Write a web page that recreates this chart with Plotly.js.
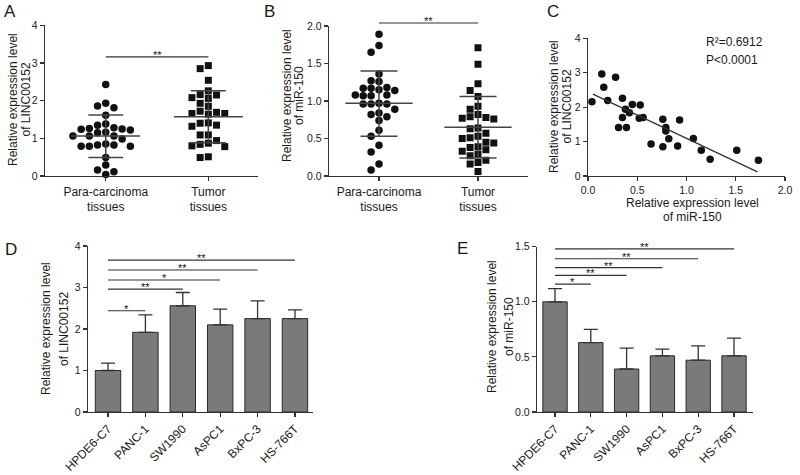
<!DOCTYPE html>
<html>
<head>
<meta charset="utf-8">
<script src="https://cdn.plot.ly/plotly-3.0.1.min.js"></script>
<style>html,body{margin:0;padding:0;background:#fff;}#chart{width:800px;height:475px;}</style>
</head>
<body>
<div id="chart"></div>
<script>
// ---------- DATA ----------
// Panel A: LINC00152 in tissues
const aCats = ['Para-carcinoma<br>tissues', 'Tumor<br>tissues'];
const aPara = [2.43, 1.93, 1.86, 1.81, 1.61, 1.38, 1.35, 1.28, 1.26, 1.25, 1.24, 1.22, 1.16, 1.15,
               1.06, 1.06, 1.06, 0.98, 0.85, 0.82, 0.82, 0.79, 0.79, 0.79, 0.49, 0.29, 0.16, 0.11, 0.04];
const aTumor = [2.93, 2.85, 2.54, 2.26, 2.16, 2.15, 2.08, 2.06, 1.93, 1.85, 1.72, 1.69, 1.66, 1.66,
                1.64, 1.41, 1.40, 1.35, 1.32, 1.09, 1.09, 0.94, 0.87, 0.84, 0.80, 0.78, 0.51, 0.49];
const aMean = [1.06, 1.57];
const aSdHi = [1.62, 2.26];
const aSdLo = [0.49, 0.88];
const aSigY = [3.16];
const aSigLabel = ['**'];

// Panel B: miR-150 in tissues
const bCats = ['Para-carcinoma<br>tissues', 'Tumor<br>tissues'];
const bPara = [1.89, 1.74, 1.65, 1.36, 1.27, 1.26, 1.17, 1.18, 1.15, 1.14, 1.17, 1.08, 1.07, 1.07, 1.08,
               0.97, 0.96, 0.96, 0.96, 0.89, 0.84, 0.79, 0.82, 0.74, 0.61, 0.53, 0.41, 0.32, 0.16, 0.08];
const bTumor = [1.71, 1.49, 1.23, 1.14, 1.06, 0.93, 0.89, 0.82, 0.79, 0.76, 0.78, 0.77, 0.64, 0.63, 0.57,
                0.53, 0.51, 0.50, 0.44, 0.45, 0.39, 0.38, 0.35, 0.33, 0.29, 0.27, 0.21, 0.18, 0.16, 0.06];
const bMean = [0.97, 0.65];
const bSdHi = [1.40, 1.06];
const bSdLo = [0.53, 0.24];
const bSigY = [2.04];
const bSigLabel = ['**'];

// Panel C: correlation
const cX = [0.04, 0.14, 0.16, 0.20, 0.28, 0.31, 0.35, 0.35, 0.38, 0.39, 0.42, 0.45, 0.53, 0.52,
            0.56, 0.64, 0.76, 0.76, 0.79, 0.79, 0.82, 0.91, 0.93, 1.07, 1.15, 1.24, 1.51, 1.73];
const cY = [2.16, 2.96, 2.58, 2.19, 2.87, 1.41, 2.26, 1.70, 1.94, 1.41, 1.84, 2.08, 2.06, 1.68,
            1.70, 0.93, 1.65, 0.85, 1.41, 1.31, 1.08, 0.87, 1.63, 1.09, 0.75, 0.49, 0.75, 0.46];
const cFitX = [0.05, 1.72];
const cFitY = [2.38, 0.12];
const cStats = ['R\u00b2=0.6912', 'P<0.0001'];

// Panels D & E: cell lines
const cells = ['HPDE6-C7', 'PANC-1', 'SW1990', 'AsPC1', 'BxPC-3', 'HS-766T'];
const dVals = [1.00, 1.92, 2.56, 2.10, 2.25, 2.25];
const dErr  = [0.18, 0.42, 0.32, 0.38, 0.43, 0.21];
const dSigY = [2.44, 2.96, 3.18, 3.42, 3.66];
const dSigLabel = ['*', '**', '*', '**', '**'];
const eVals = [1.00, 0.63, 0.39, 0.51, 0.47, 0.51];
const eErr  = [0.12, 0.12, 0.19, 0.06, 0.13, 0.16];
const eSigY = [1.16, 1.24, 1.31, 1.39, 1.48];
const eSigLabel = ['*', '**', '**', '**', '**'];

const titleLINC = ['Relative expression level', 'of LINC00152'];
const titleMIR = ['Relative expression level', 'of miR-150'];

// ---------- STYLE / LAYOUT ----------
const W = 800, H = 475;
const FONT = '"Liberation Sans", Arial, Helvetica, sans-serif';
const TXT = '#1a1a1a';
const AX = '#333';
const DOT = '#111';

function ax(extra) {
  return Object.assign({
    showgrid: false, zeroline: false, showline: true, linecolor: AX, linewidth: 1.2,
    ticks: 'outside', ticklen: 4, tickwidth: 1.2, tickcolor: AX,
    tickfont: {family: FONT, size: 10.5, color: TXT}, fixedrange: true
  }, extra);
}
const px = p => p / W;
const py = p => 1 - p / H;

const A = {dom: [45, 258.3], ydom: [176, 25.3], xr: [-0.592, 1.487], yr: [0, 4]};
const B = {dom: [329, 528], ydom: [176, 26], xr: [-0.505, 1.505], yr: [0, 2]};

function unitsPerPx(dom, r) { return (r[1] - r[0]) / (dom[1] - dom[0]); }

// simple beeswarm placement (Prism-like columns)
function swarm(vals, center, slotPx, diamPx, P) {
  const ux = unitsPerPx(P.dom, P.xr);
  const uy = unitsPerPx([P.ydom[1], P.ydom[0]], P.yr);
  const slot = slotPx * ux, minDy = diamPx * uy;
  const order = vals.map((v, i) => i).sort((a, b) => vals[b] - vals[a]);
  const placed = {};
  const xs = new Array(vals.length);
  order.forEach(i => {
    for (let k = 0; k < 50; k++) {
      const s = k === 0 ? 0 : (k % 2 ? -Math.ceil(k / 2) : Math.ceil(k / 2));
      const list = placed[s] || [];
      if (list.every(y => Math.abs(y - vals[i]) >= minDy)) {
        list.push(vals[i]); placed[s] = list; xs[i] = center + s * slot; break;
      }
    }
  });
  return xs;
}

const traces = [];
// Panel A points
traces.push({type: 'scatter', mode: 'markers', x: swarm(aPara, 0, 8.2, 7.2, A), y: aPara,
  xaxis: 'x', yaxis: 'y', marker: {symbol: 'circle', size: 7.5, color: DOT}, cliponaxis: false, hoverinfo: 'y'});
traces.push({type: 'scatter', mode: 'markers', x: swarm(aTumor, 1, 8.2, 7.2, A), y: aTumor,
  xaxis: 'x', yaxis: 'y', marker: {symbol: 'square', size: 7, color: DOT}, cliponaxis: false, hoverinfo: 'y'});
// Panel B points
traces.push({type: 'scatter', mode: 'markers', x: swarm(bPara, 0, 7.9, 7.2, B), y: bPara,
  xaxis: 'x2', yaxis: 'y2', marker: {symbol: 'circle', size: 7.5, color: DOT}, cliponaxis: false, hoverinfo: 'y'});
traces.push({type: 'scatter', mode: 'markers', x: swarm(bTumor, 1, 7.9, 7.2, B), y: bTumor,
  xaxis: 'x2', yaxis: 'y2', marker: {symbol: 'square', size: 7, color: DOT}, cliponaxis: false, hoverinfo: 'y'});
// Panel B significance bar (on taller hidden axis with same scale)
traces.push({type: 'scatter', mode: 'lines', x: [0, 1], y: [bSigY[0], bSigY[0]], xaxis: 'x2', yaxis: 'y6',
  line: {color: AX, width: 1.2}, hoverinfo: 'skip'});
// Panel C
traces.push({type: 'scatter', mode: 'markers', x: cX, y: cY, xaxis: 'x3', yaxis: 'y3',
  marker: {symbol: 'circle', size: 7.5, color: DOT}, cliponaxis: false});
traces.push({type: 'scatter', mode: 'lines', x: cFitX, y: cFitY, xaxis: 'x3', yaxis: 'y3',
  line: {color: AX, width: 1.3}, hoverinfo: 'skip'});
// Panel D bars
traces.push({type: 'bar', x: cells, y: dVals, xaxis: 'x4', yaxis: 'y4',
  marker: {color: '#7a7a7a', line: {color: '#2a2a2a', width: 1}},
  error_y: {type: 'data', symmetric: false, array: dErr, arrayminus: dErr.map(() => 0), color: AX, thickness: 1.3, width: 7}});
// Panel E bars
traces.push({type: 'bar', x: cells, y: eVals, xaxis: 'x5', yaxis: 'y5',
  marker: {color: '#7a7a7a', line: {color: '#2a2a2a', width: 1}},
  error_y: {type: 'data', symmetric: false, array: eErr, arrayminus: eErr.map(() => 0), color: AX, thickness: 1.3, width: 7}});

const shapes = [];
function meanSd(xref, yref, cx, mean, hi, lo, mh, ch) {
  const st = {color: '#444', width: 1.5};
  shapes.push({type: 'line', xref, yref, x0: cx - mh, x1: cx + mh, y0: mean, y1: mean, line: st});
  shapes.push({type: 'line', xref, yref, x0: cx - ch, x1: cx + ch, y0: hi, y1: hi, line: st});
  shapes.push({type: 'line', xref, yref, x0: cx - ch, x1: cx + ch, y0: lo, y1: lo, line: st});
  shapes.push({type: 'line', xref, yref, x0: cx, x1: cx, y0: lo, y1: hi, line: st});
}
for (let i = 0; i < 2; i++) {
  meanSd('x', 'y', i, aMean[i], aSdHi[i], aSdLo[i], 0.336, 0.17);
  meanSd('x2', 'y2', i, bMean[i], bSdHi[i], bSdLo[i], 0.34, 0.187);
}
shapes.push({type: 'line', xref: 'x', yref: 'y', x0: 0, x1: 1, y0: aSigY[0], y1: aSigY[0], line: {color: AX, width: 1.2}});

const annotations = [];
function ann(o) { annotations.push(Object.assign({showarrow: false, font: {family: FONT, size: 12, color: TXT}}, o)); }
const starFont = {family: FONT, size: 11, color: '#111'};

dSigY.forEach((y, i) => {
  shapes.push({type: 'line', xref: 'x4', yref: 'y4', x0: 0, x1: i + 1, y0: y, y1: y, line: {color: AX, width: 1.1}});
  ann({xref: 'x4', yref: 'y4', x: (i + 1) / 2, y: y, text: dSigLabel[i], yanchor: 'bottom', yshift: -6, font: starFont});
});
eSigY.forEach((y, i) => {
  shapes.push({type: 'line', xref: 'x5', yref: 'y5', x0: 0, x1: i + 1, y0: y, y1: y, line: {color: AX, width: 1.1}});
  ann({xref: 'x5', yref: 'y5', x: (i + 1) / 2, y: y, text: eSigLabel[i], yanchor: 'bottom', yshift: -6, font: starFont});
});
ann({xref: 'x', yref: 'y', x: 0.5, y: aSigY[0], text: aSigLabel[0], yanchor: 'bottom', yshift: -6, font: starFont});
ann({xref: 'x2', yref: 'y6', x: 0.5, y: bSigY[0], text: bSigLabel[0], yanchor: 'bottom', yshift: -6, font: starFont});

// panel letters
[['A', 2, 11], ['B', 262, 11], ['C', 545, 11], ['D', 3, 249], ['E', 455, 248]].forEach(([t, x, y]) =>
  ann({xref: 'paper', yref: 'paper', x: px(x), y: py(y), text: t, xanchor: 'left', yanchor: 'middle', font: {family: FONT, size: 17, color: TXT}}));

// axis titles (one annotation per line for exact line spacing)
function ytitle(lines, xs, y) {
  lines.forEach((t, i) => ann({xref: 'paper', yref: 'paper', x: px(xs[i]), y: py(y), text: t, textangle: -90, xanchor: 'center', yanchor: 'middle'}));
}
ytitle(titleLINC, [13, 25.5], 100);
ytitle(titleMIR, [287, 299], 96);
ytitle(titleLINC, [554, 566.5], 107);
ytitle(titleLINC, [46, 64], 329);
ytitle(titleMIR, [492, 509], 327);
titleMIR.forEach((t, i) => ann({xref: 'paper', yref: 'paper', x: px(692), y: py([203, 217][i]), text: t, xanchor: 'center', yanchor: 'middle'}));
ann({xref: 'paper', yref: 'paper', x: px(704), y: py(42), text: cStats[0], xanchor: 'left', yanchor: 'middle'});
ann({xref: 'paper', yref: 'paper', x: px(704), y: py(60), text: cStats[1], xanchor: 'left', yanchor: 'middle'});

const catFont = {family: FONT, size: 12, color: TXT};
const layout = {
  width: W, height: H, margin: {l: 0, r: 0, t: 0, b: 0},
  paper_bgcolor: '#fff', plot_bgcolor: 'rgba(0,0,0,0)', showlegend: false,
  font: {family: FONT, color: TXT}, bargap: 0.32,
  xaxis: ax({domain: [px(A.dom[0]), px(A.dom[1])], range: A.xr, tickvals: [0, 1], ticktext: aCats, anchor: 'y', tickfont: catFont}),
  yaxis: ax({domain: [py(A.ydom[0]), py(A.ydom[1])], range: A.yr, dtick: 1, anchor: 'x'}),
  xaxis2: ax({domain: [px(B.dom[0]), px(B.dom[1])], range: B.xr, tickvals: [0, 1], ticktext: bCats, anchor: 'y2', tickfont: catFont}),
  yaxis2: ax({domain: [py(B.ydom[0]), py(B.ydom[1])], range: B.yr, tickvals: [0, 0.5, 1, 1.5, 2], tickformat: '.1f', anchor: 'x2'}),
  yaxis6: {domain: [py(176), py(11)], range: [0, 2.2], visible: false, anchor: 'x2', fixedrange: true},
  xaxis3: ax({domain: [px(588), px(785)], range: [0, 2], dtick: 0.5, tickformat: '.1f', anchor: 'y3'}),
  yaxis3: ax({domain: [py(176), py(38.3)], range: [0, 4], dtick: 1, anchor: 'x3'}),
  xaxis4: ax({domain: [px(88), px(313.3)], type: 'category', range: [-0.535, 5.49], anchor: 'y4', tickangle: -45, tickfont: catFont}),
  yaxis4: ax({domain: [py(412), py(246)], range: [0, 4], dtick: 1, anchor: 'x4'}),
  xaxis5: ax({domain: [px(537), px(753)], type: 'category', range: [-0.503, 5.53], anchor: 'y5', tickangle: -45, tickfont: catFont}),
  yaxis5: ax({domain: [py(412), py(246.7)], range: [0, 1.5], dtick: 0.5, tickformat: '.1f', anchor: 'x5'}),
  shapes, annotations
};

Plotly.newPlot('chart', traces, layout, {displayModeBar: false, staticPlot: true});
</script>
</body>
</html>
